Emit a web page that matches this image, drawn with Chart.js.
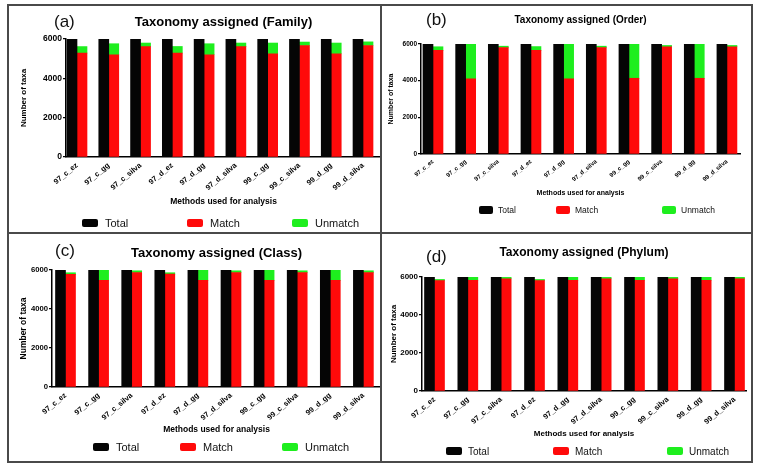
<!DOCTYPE html>
<html>
<head>
<meta charset="utf-8">
<script src="https://cdn.jsdelivr.net/npm/chart.js@4.4.1/dist/chart.umd.min.js"></script>
<style>
  body { margin: 0; background: #fff; font-family: 'Liberation Sans', Arial, sans-serif; }
  #page { position: relative; width: 768px; height: 471px; overflow: hidden; background: #fff; }
  canvas { position: absolute; }
  .line { position: absolute; background: #4a4a4a; z-index: 3; }
  .tag { position: absolute; font-size: 17px; line-height: 20px; color: #111; z-index: 2; }
  .legend { position: absolute; height: 16px; z-index: 2; }
  .legend .item { position: absolute; top: 0; height: 16px; display: flex; align-items: center; white-space: nowrap; color: #111; }
  .legend i { display: inline-block; border-radius: 2px; }
</style>
</head>
<body>
<div id="page"></div>
<script>
const methods = ['97_c_ez', '97_c_gg', '97_c_silva', '97_d_ez', '97_d_gg', '97_d_silva', '99_c_gg', '99_c_silva', '99_d_gg', '99_d_silva'];
const yTicks = [0, 2000, 4000, 6000];

const familyTotal = [5990, 5990, 5990, 5990, 5990, 5990, 5990, 5990, 5990, 5990];
const familyMatch = [5285, 5200, 5610, 5285, 5200, 5610, 5250, 5670, 5250, 5670];
const familyUnmatch = [330, 560, 185, 335, 560, 185, 545, 175, 545, 185];

const orderTotal = [5990, 5990, 5990, 5990, 5990, 5990, 5990, 5990, 5990, 5990];
const orderMatch = [5650, 4100, 5810, 5650, 4100, 5810, 4130, 5850, 4130, 5850];
const orderUnmatch = [200, 1890, 70, 210, 1890, 70, 1860, 70, 1860, 70];

const classTotal = [5990, 5990, 5990, 5990, 5990, 5990, 5990, 5990, 5990, 5990];
const classMatch = [5780, 5470, 5870, 5790, 5470, 5870, 5470, 5870, 5470, 5870];
const classUnmatch = [80, 520, 90, 70, 520, 90, 520, 90, 520, 90];

const phylumTotal = [5990, 5990, 5990, 5990, 5990, 5990, 5990, 5990, 5990, 5990];
const phylumMatch = [5810, 5830, 5910, 5810, 5830, 5910, 5830, 5910, 5830, 5910];
const phylumUnmatch = [60, 160, 70, 60, 160, 70, 160, 70, 160, 70];

// page layout of the four panels (page pixels)
const panels = [
  { tag: '(a)', title: 'Taxonomy assigned (Family)', total: familyTotal, match: familyMatch, unmatch: familyUnmatch,
    box: [9, 6, 372, 227], plot: [66, 39, 381, 157], xMin: -0.346, xMax: 9.566,
    titleSize: 13, titleY: 22, yTitleSize: 8, yTitleX: 23.5, yTickSize: 8.5,
    xTitleSize: 8.5, xTitleY: 202, xTickSize: 7.5, tagX: 54, tagY: 22,
    legendY: 223, legendX: [82, 187, 292], legendSize: 11, swatch: [16, 8], gap: 7 },
  { tag: '(b)', title: 'Taxonomy assigned (Order)', total: orderTotal, match: orderMatch, unmatch: orderUnmatch,
    box: [382, 6, 370, 227], plot: [421, 44, 740, 154], xMin: -0.367, xMax: 9.4,
    titleSize: 10, titleY: 20, yTitleSize: 7, yTitleX: 391, yTickSize: 6.5,
    xTitleSize: 7, xTitleY: 193, xTickSize: 6, tagX: 426, tagY: 20,
    legendY: 210, legendX: [479, 556, 662], legendSize: 8.5, swatch: [14, 8], gap: 5 },
  { tag: '(c)', title: 'Taxonomy assigned (Class)', total: classTotal, match: classMatch, unmatch: classUnmatch,
    box: [9, 234, 372, 228], plot: [52, 270, 381, 387], xMin: -0.408, xMax: 9.532,
    titleSize: 13, titleY: 253, yTitleSize: 8.5, yTitleX: 24, yTickSize: 7.7,
    xTitleSize: 8.5, xTitleY: 430, xTickSize: 7.5, tagX: 55, tagY: 251,
    legendY: 447, legendX: [93, 180, 282], legendSize: 11, swatch: [16, 8], gap: 7 },
  { tag: '(d)', title: 'Taxonomy assigned (Phylum)', total: phylumTotal, match: phylumMatch, unmatch: phylumUnmatch,
    box: [382, 234, 370, 228], plot: [422, 277, 746, 391], xMin: -0.375, xMax: 9.345,
    titleSize: 12, titleY: 253, yTitleSize: 8, yTitleX: 393.5, yTickSize: 8,
    xTitleSize: 8, xTitleY: 434, xTickSize: 7.5, tagX: 426, tagY: 257,
    legendY: 451, legendX: [446, 553, 667], legendSize: 10, swatch: [16, 8], gap: 6 }
];

Chart.defaults.font.family = "'Liberation Sans', Arial, sans-serif";
Chart.defaults.color = '#000';

const page = document.getElementById('page');
const lh = size => size * 1.2;
const points = arr => arr.map((y, i) => ({ x: i, y }));

function addLine(x, y, w, h) {
  const d = document.createElement('div');
  d.className = 'line';
  Object.assign(d.style, { left: x + 'px', top: y + 'px', width: w + 'px', height: h + 'px' });
  page.appendChild(d);
}

panels.forEach(p => {
  const [cx, cy, cw, ch] = p.box;
  const [L, T, R, B] = p.plot;
  const canvas = document.createElement('canvas');
  canvas.width = cw;
  canvas.height = ch;
  canvas.style.left = cx + 'px';
  canvas.style.top = cy + 'px';
  page.appendChild(canvas);

  const titleTop = p.titleY - cy - lh(p.titleSize) / 2;
  const xAxisHeight = p.xTitleY + lh(p.xTitleSize) / 2 - B;

  const chart = new Chart(canvas, {
    type: 'bar',
    data: {
      datasets: [
        { label: 'Total', data: points(p.total), backgroundColor: '#050505', stack: 'total', barThickness: 10 },
        { label: 'Match', data: points(p.match), backgroundColor: '#ff0a0a', stack: 'split', barThickness: 10 },
        { label: 'Unmatch', data: points(p.unmatch), backgroundColor: '#1eee1e', stack: 'split', barThickness: 10 }
      ]
    },
    options: {
      responsive: false,
      animation: false,
      layout: { padding: { left: 0, top: 0, right: cx + cw - R, bottom: cy + ch - (p.xTitleY + lh(p.xTitleSize) / 2) } },
      plugins: {
        legend: { display: false },
        tooltip: { enabled: false },
        title: {
          display: true, text: p.title, fullSize: false, color: '#000',
          font: { size: p.titleSize, weight: 'bold' },
          padding: { top: titleTop, bottom: T - cy - titleTop - lh(p.titleSize) }
        }
      },
      scales: {
        x: {
          type: 'linear', offset: false, min: p.xMin, max: p.xMax,
          afterBuildTicks: s => { s.ticks = methods.map((m, i) => ({ value: i })); },
          afterFit: s => { s.height = xAxisHeight; },
          border: { color: '#000', width: 1.5 },
          grid: { display: false, drawTicks: false, offset: false },
          ticks: {
            autoSkip: false, minRotation: 40, maxRotation: 40, padding: 4, color: '#000',
            font: { size: p.xTickSize, weight: 'bold' },
            callback: v => methods[v]
          },
          title: {
            display: true, text: 'Methods used for analysis', color: '#000',
            font: { size: p.xTitleSize, weight: 'bold' }, padding: { top: 0, bottom: 0 }
          }
        },
        y: {
          stacked: true, min: 0, max: yTicks[yTicks.length - 1],
          afterBuildTicks: s => { s.ticks = yTicks.map(v => ({ value: v })); },
          afterFit: s => { s.width = L - cx; },
          border: { color: '#000', width: 1.5 },
          grid: { drawOnChartArea: false, color: '#000', lineWidth: 1.2, tickLength: 3 },
          ticks: { color: '#000', padding: 1, font: { size: p.yTickSize, weight: 'bold' }, callback: v => String(v) },
          title: {
            display: true, text: 'Number of taxa', color: '#000',
            font: { size: p.yTitleSize, weight: 'bold' },
            padding: { top: p.yTitleX - cx - lh(p.yTitleSize) / 2, bottom: 0 }
          }
        }
      }
    }
  });

  const tag = document.createElement('div');
  tag.className = 'tag';
  tag.textContent = p.tag;
  tag.style.left = p.tagX + 'px';
  tag.style.top = (p.tagY - 10) + 'px';
  page.appendChild(tag);

  const legend = document.createElement('div');
  legend.className = 'legend';
  legend.style.left = '0px';
  legend.style.top = (p.legendY - 8) + 'px';
  chart.data.datasets.forEach((ds, k) => {
    const item = document.createElement('div');
    item.className = 'item';
    item.style.left = p.legendX[k] + 'px';
    item.style.fontSize = p.legendSize + 'px';
    const sw = document.createElement('i');
    sw.style.width = p.swatch[0] + 'px';
    sw.style.height = p.swatch[1] + 'px';
    sw.style.marginRight = p.gap + 'px';
    sw.style.background = ds.backgroundColor;
    item.appendChild(sw);
    item.appendChild(document.createTextNode(ds.label));
    legend.appendChild(item);
  });
  page.appendChild(legend);
});

// panel frame
addLine(7, 4, 746, 2);
addLine(7, 461, 746, 2);
addLine(7, 4, 2, 459);
addLine(751, 4, 2, 459);
addLine(380, 4, 2, 459);
addLine(7, 232, 746, 2);
</script>
</body>
</html>
